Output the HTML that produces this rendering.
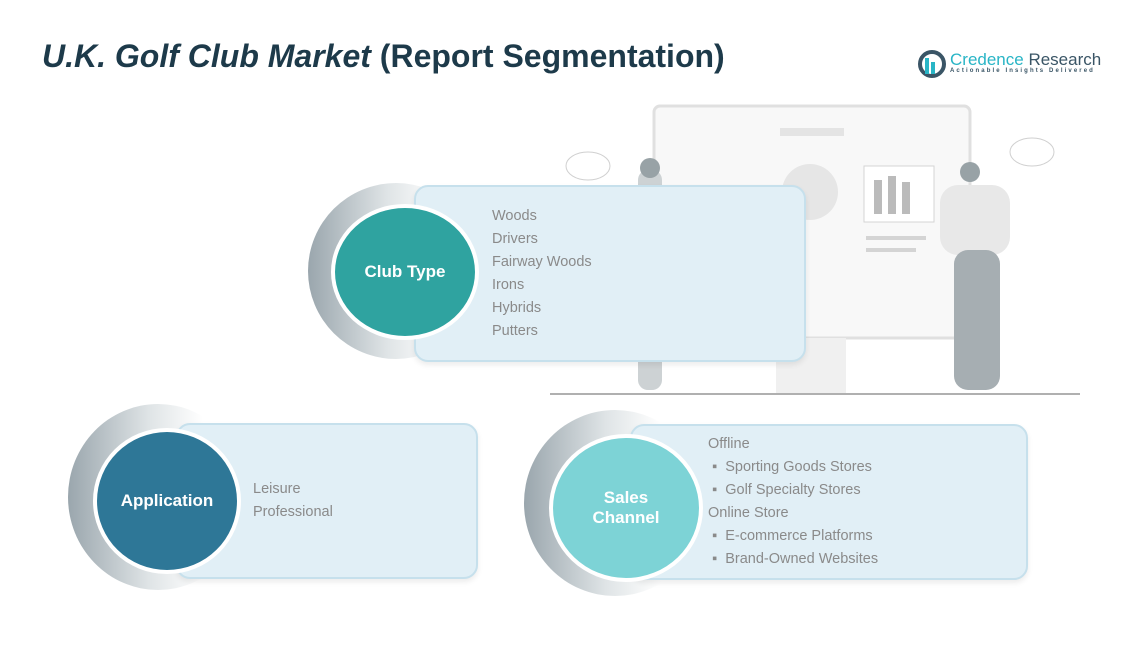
<!DOCTYPE html>
<html><head><meta charset="utf-8"><style>
*{margin:0;padding:0;box-sizing:border-box}
body{width:1136px;height:656px;background:#fff;position:relative;overflow:hidden;font-family:"Liberation Sans",sans-serif}
.abs{position:absolute}
.title{left:42px;top:38px;font-size:32px;font-weight:bold;color:#1d3a4a}
.card{position:absolute;background:#e1eff6;border:2px solid #c6e0ec;border-radius:14px;box-shadow:0 3px 6px rgba(0,0,0,0.08)}
.ring{position:absolute;border-radius:50%;background:linear-gradient(90deg,#9aa6ad,#dfe4e6 45%,#fff 75%)}
.circ{position:absolute;border-radius:50%;border:4px solid #fff;color:#fff;font-weight:bold;font-size:17px;display:flex;align-items:center;justify-content:center;text-align:center;line-height:20px}
.list{position:absolute;color:#8a8a8a;font-size:14.5px;line-height:23px}
</style></head><body>
<div class="abs title"><i>U.K. Golf Club Market</i> (Report Segmentation)</div>
<div class="abs" style="left:918px;top:50px;width:28px;height:28px;border-radius:50%;border:4px solid #3a5566"></div>
<div class="abs" style="left:925px;top:58px;width:4px;height:16px;background:#29b5c6"></div>
<div class="abs" style="left:931px;top:62px;width:4px;height:12px;background:#29b5c6"></div>
<div class="abs" style="left:950px;top:50px;font-size:17px;color:#3a5566"><span style="color:#29b5c6">Credence</span> Research</div>
<div class="abs" style="left:950px;top:68px;font-size:6px;letter-spacing:2.1px;color:#3a5566;font-weight:bold">Actionable Insights Delivered</div>

<svg class="abs" style="left:540px;top:100px" width="560" height="300">
<rect x="114" y="6" width="316" height="232" rx="6" fill="#f8f8f8" stroke="#e0e0e0" stroke-width="3"/>
<rect x="240" y="28" width="64" height="8" fill="#e4e4e4"/>
<circle cx="270" cy="92" r="28" fill="#e6e6e6"/>
<rect x="324" y="66" width="70" height="56" fill="#fff" stroke="#d4d4d4"/>
<rect x="334" y="80" width="8" height="34" fill="#bbb"/><rect x="348" y="76" width="8" height="38" fill="#bbb"/><rect x="362" y="82" width="8" height="32" fill="#bbb"/>
<rect x="326" y="136" width="60" height="4" fill="#d4d4d4"/><rect x="326" y="148" width="50" height="4" fill="#d4d4d4"/>
<rect x="236" y="238" width="70" height="56" fill="#f0f0f0"/>
<line x1="10" y1="294" x2="540" y2="294" stroke="#b0b0b0" stroke-width="2"/>
<ellipse cx="48" cy="66" rx="22" ry="14" fill="#fff" stroke="#d0d0d0"/>
<ellipse cx="492" cy="52" rx="22" ry="14" fill="#fff" stroke="#d0d0d0"/>
<rect x="400" y="85" width="70" height="70" rx="18" fill="#e8e8e8"/>
<circle cx="430" cy="72" r="10" fill="#98a2a6"/>
<rect x="414" y="150" width="46" height="140" rx="14" fill="#a6aeb2"/>
<rect x="98" y="70" width="24" height="220" rx="10" fill="#cdd2d4"/>
<circle cx="110" cy="68" r="10" fill="#98a2a6"/>
</svg>

<div class="ring" style="left:308px;top:183px;width:176px;height:176px"></div>
<div class="card" style="left:414px;top:185px;width:392px;height:177px"></div>
<div class="circ" style="left:331px;top:204px;width:148px;height:136px;background:#2fa3a0">Club Type</div>
<div class="list" style="left:492px;top:205px">Woods<br>Drivers<br>Fairway Woods<br>Irons<br>Hybrids<br>Putters</div>

<div class="ring" style="left:68px;top:404px;width:180px;height:186px"></div>
<div class="card" style="left:176px;top:423px;width:302px;height:156px"></div>
<div class="circ" style="left:93px;top:428px;width:148px;height:146px;background:#2e7797">Application</div>
<div class="list" style="left:253px;top:478px">Leisure<br>Professional</div>

<div class="ring" style="left:524px;top:410px;width:182px;height:186px"></div>
<div class="card" style="left:630px;top:424px;width:398px;height:156px"></div>
<div class="circ" style="left:549px;top:434px;width:154px;height:148px;background:#7dd3d6">Sales<br>Channel</div>
<div class="list" style="left:708px;top:433px">Offline<br>&nbsp;▪&nbsp; Sporting Goods Stores<br>&nbsp;▪&nbsp; Golf Specialty Stores<br>Online Store<br>&nbsp;▪&nbsp; E-commerce Platforms<br>&nbsp;▪&nbsp; Brand-Owned Websites</div>
</body></html>
